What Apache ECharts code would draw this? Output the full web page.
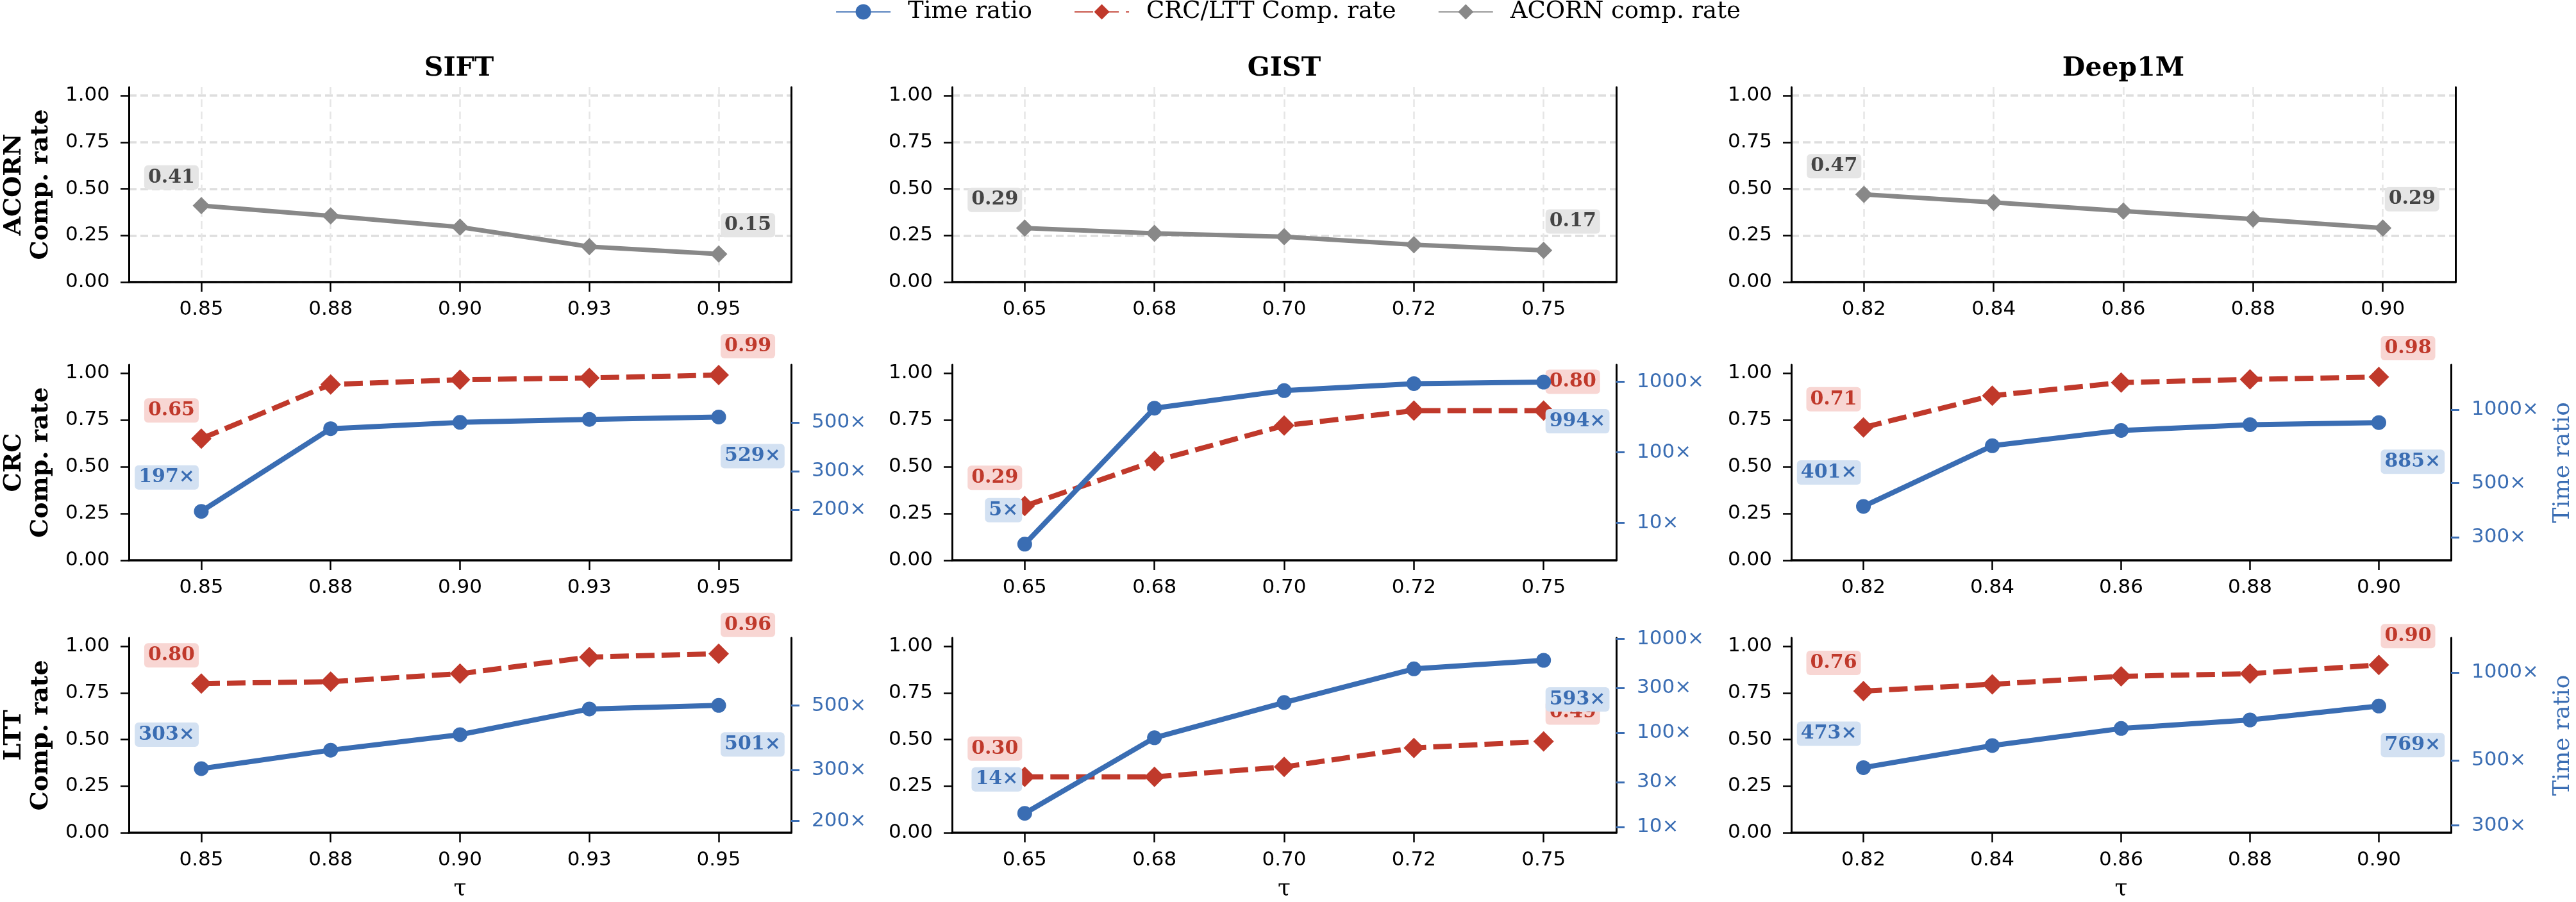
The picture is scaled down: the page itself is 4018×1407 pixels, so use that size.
<!DOCTYPE html>
<html>
<head>
<meta charset="utf-8">
<script src="https://cdn.jsdelivr.net/npm/echarts@6.0.0/dist/echarts.min.js"></script>
<style>
  html, body { margin: 0; padding: 0; background: #fff; }
  #main { width: 4018px; height: 1407px; }
</style>
</head>
<body>
<div id="main"></div>
<script>
// tau values per dataset
var siftTau = ['0.85', '0.88', '0.90', '0.93', '0.95'];
var gistTau = ['0.65', '0.68', '0.70', '0.72', '0.75'];
var deepTau = ['0.82', '0.84', '0.86', '0.88', '0.90'];

// ACORN comp. rate
var siftAcorn = [0.41, 0.355, 0.295, 0.19, 0.15];
var gistAcorn = [0.29, 0.261, 0.243, 0.20, 0.17];
var deepAcorn = [0.47, 0.427, 0.381, 0.338, 0.29];

// CRC comp. rate / time ratio
var siftCrcRate = [0.65, 0.94, 0.965, 0.975, 0.99];
var gistCrcRate = [0.29, 0.53, 0.72, 0.80, 0.80];
var deepCrcRate = [0.71, 0.88, 0.95, 0.967, 0.98];
var siftCrcTime = [197, 468, 500, 516, 529];
var gistCrcTime = [5, 424, 752, 946, 994];
var deepCrcTime = [401, 711, 822, 868, 885];

// LTT comp. rate / time ratio
var siftLttRate = [0.80, 0.81, 0.853, 0.942, 0.96];
var gistLttRate = [0.30, 0.30, 0.353, 0.455, 0.49];
var deepLttRate = [0.76, 0.796, 0.839, 0.853, 0.90];
var siftLttTime = [303, 351, 397, 487, 501];
var gistLttTime = [14, 89, 211, 481, 593];
var deepLttTime = [473, 563, 644, 689, 769];

// tick labels
var rateTicks = [0, 0.25, 0.5, 0.75, 1.0];
var siftCrcTicks = [200, 300, 500];
var gistCrcTicks = [10, 100, 1000];
var deepCrcTicks = [300, 500, 1000];
var siftLttTicks = [200, 300, 500];
var gistLttTicks = [10, 30, 100, 300, 1000];
var deepLttTicks = [300, 500, 1000];

var titles = ['SIFT', 'GIST', 'Deep1M'];
var rowNames = ['ACORN\nComp. rate', 'CRC\nComp. rate', 'LTT\nComp. rate'];

var BLUE = '#3a6db3', RED = '#c0392b', GRAY = '#888888';

var columns = [
    { tau: siftTau, acorn: siftAcorn,
      crc: { rate: siftCrcRate, time: siftCrcTime, ticks: siftCrcTicks, range: [118, 914] },
      ltt: { rate: siftLttRate, time: siftLttTime, ticks: siftLttTicks, range: [182, 857] } },
    { tau: gistTau, acorn: gistAcorn,
      crc: { rate: gistCrcRate, time: gistCrcTime, ticks: gistCrcTicks, range: [2.95, 1750] },
      ltt: { rate: gistLttRate, time: gistLttTime, ticks: gistLttTicks, range: [8.7, 1027] } },
    { tau: deepTau, acorn: deepAcorn,
      crc: { rate: deepCrcRate, time: deepCrcTime, ticks: deepCrcTicks, range: [241, 1528] },
      ltt: { rate: deepLttRate, time: deepLttTime, ticks: deepLttTicks, range: [283, 1316] } }
];

var colLeft = [198, 1485, 2794];
var rowTop = [136, 569, 995];
var plotW = 1036, plotH = 304;

var tickFont = { fontFamily: 'DejaVu Sans', fontSize: 31 };
var labelFont = { fontFamily: 'DejaVu Serif', fontWeight: 'bold', fontSize: 30, padding: [4, 6], borderRadius: 6 };

var grids = [], xAxes = [], yAxes = [], series = [], graphics = [];

function pointData(values, color, bg, fmt, firstDy, lastDy) {
    var last = values.length - 1;
    return values.map(function (v, i) {
        var item = { value: [i, v] };
        if (i === 0 || i === last) {
            item.label = Object.assign({
                show: true,
                position: 'inside',
                formatter: fmt(v),
                align: i === 0 ? 'right' : 'left',
                verticalAlign: 'middle',
                offset: [i === 0 ? -4 : 3, i === 0 ? firstDy : lastDy],
                color: color,
                backgroundColor: bg
            }, labelFont);
        }
        return item;
    });
}

function rateFmt(v) { return v.toFixed(2); }
function timeFmt(v) { return Math.round(v) + '\u00d7'; }

columns.forEach(function (col, c) {
    for (var r = 0; r < 3; r++) {
        var g = grids.length;
        grids.push({ left: colLeft[c], top: rowTop[r], width: plotW, height: plotH + (r === 1 ? 1 : 0) });

        xAxes.push({
            type: 'value', gridIndex: g, min: -0.56, max: 4.56,
            axisLine: { show: true, onZero: false, lineStyle: { color: '#000', width: 3.5 } },
            axisTick: { show: true, customValues: [0, 1, 2, 3, 4], length: 15, lineStyle: { color: '#000', width: 2.5 } },
            axisLabel: Object.assign({
                customValues: [0, 1, 2, 3, 4], margin: 27, color: '#000',
                formatter: (function (tau) { return function (v) { return tau[Math.round(v)]; }; })(col.tau)
            }, tickFont),
            splitLine: { show: r === 0, lineStyle: { color: '#e6e6e6', width: 2.5, type: [12, 7] } },
            name: r === 2 ? '\u03c4' : '', nameLocation: 'middle', nameGap: 70,
            nameTextStyle: { fontFamily: 'DejaVu Serif', fontSize: 36, color: '#000' }
        });

        var left = yAxes.length;
        yAxes.push({
            type: 'value', gridIndex: g, position: 'left', min: 0, max: 1.045,
            axisLine: { show: true, onZero: false, lineStyle: { color: '#000', width: 3 } },
            axisTick: { show: true, customValues: rateTicks, length: 13, lineStyle: { color: '#000', width: 2.5 } },
            axisLabel: Object.assign({ customValues: rateTicks, margin: 30, color: '#000', formatter: rateFmt }, tickFont),
            splitLine: { show: r === 0, lineStyle: { color: '#dedede', width: 3.5, type: [12, 6] } },
            name: c === 0 ? rowNames[r] : '', nameLocation: 'middle', nameGap: 116,
            nameTextStyle: { fontFamily: 'DejaVu Serif', fontWeight: 'bold', fontSize: 38, lineHeight: 42, color: '#000' }
        });

        if (r === 0) {
            yAxes.push({
                type: 'value', gridIndex: g, position: 'right', min: 0, max: 1.045,
                axisLine: { show: true, onZero: false, lineStyle: { color: '#000', width: 3 } },
                axisTick: { show: false }, axisLabel: { show: false }, splitLine: { show: false }
            });
            series.push({
                name: 'ACORN comp. rate', type: 'line', xAxisIndex: g, yAxisIndex: left, z: 3,
                data: pointData(col.acorn, '#444', '#e5e5e5', rateFmt, -44, -45),
                symbol: 'diamond', symbolSize: [27, 27],
                lineStyle: { color: GRAY, width: 7 },
                itemStyle: { color: GRAY, borderWidth: 0 }
            });
            continue;
        }

        var part = r === 1 ? col.crc : col.ltt;
        var right = yAxes.length;
        yAxes.push({
            type: 'log', logBase: 10, gridIndex: g, position: 'right',
            min: part.range[0], max: part.range[1],
            axisLine: { show: true, onZero: false, lineStyle: { color: '#000', width: 3 } },
            axisTick: { show: true, customValues: part.ticks, length: 13, lineStyle: { color: BLUE, width: 3 } },
            axisLabel: Object.assign({ customValues: part.ticks, margin: 32, color: BLUE, formatter: timeFmt }, tickFont),
            minorTick: { show: false }, splitLine: { show: false },
            name: c === 2 ? 'Time ratio' : '', nameLocation: 'middle', nameGap: 156,
            nameTextStyle: { fontFamily: 'DejaVu Serif', fontSize: 36, lineHeight: 38, color: BLUE }
        });

        series.push({
            name: 'CRC/LTT Comp. rate', type: 'line', xAxisIndex: g, yAxisIndex: left, z: 3,
            data: pointData(part.rate, RED, '#f8d6d3', rateFmt, -44, -45),
            symbol: 'diamond', symbolSize: [32, 32],
            lineStyle: { color: RED, width: 8, type: [29, 11] },
            itemStyle: { color: RED, borderWidth: 0 }
        });
        series.push({
            name: 'Time ratio', type: 'line', xAxisIndex: g, yAxisIndex: right, z: 4,
            data: pointData(part.time, BLUE, '#d3e1f2', timeFmt, -53, 61),
            symbol: 'circle', symbolSize: 23,
            lineStyle: { color: BLUE, width: 8 },
            itemStyle: { color: BLUE, borderWidth: 0 }
        });
    }

    graphics.push({
        type: 'text', x: colLeft[c] + plotW / 2, y: 107,
        style: { text: titles[c], fontFamily: 'DejaVu Serif', fontWeight: 'bold', fontSize: 41,
                 fill: '#000', align: 'center', verticalAlign: 'middle' }
    });
});

var chart = echarts.init(document.getElementById('main'), null, { renderer: 'canvas' });
var option = {
    backgroundColor: '#ffffff',
    animation: false,
    legend: {
        top: 0, left: 'center', padding: 0,
        itemWidth: 85, itemHeight: 30, itemGap: 65,
        data: ['Time ratio', 'CRC/LTT Comp. rate', 'ACORN comp. rate'],
        textStyle: { fontFamily: 'DejaVu Serif', fontSize: 37, color: '#000', padding: [0, 0, 0, 22] }
    },
    grid: grids,
    xAxis: xAxes,
    yAxis: yAxes,
    series: series,
    graphic: graphics
};
chart.setOption(option);
</script>
</body>
</html>
